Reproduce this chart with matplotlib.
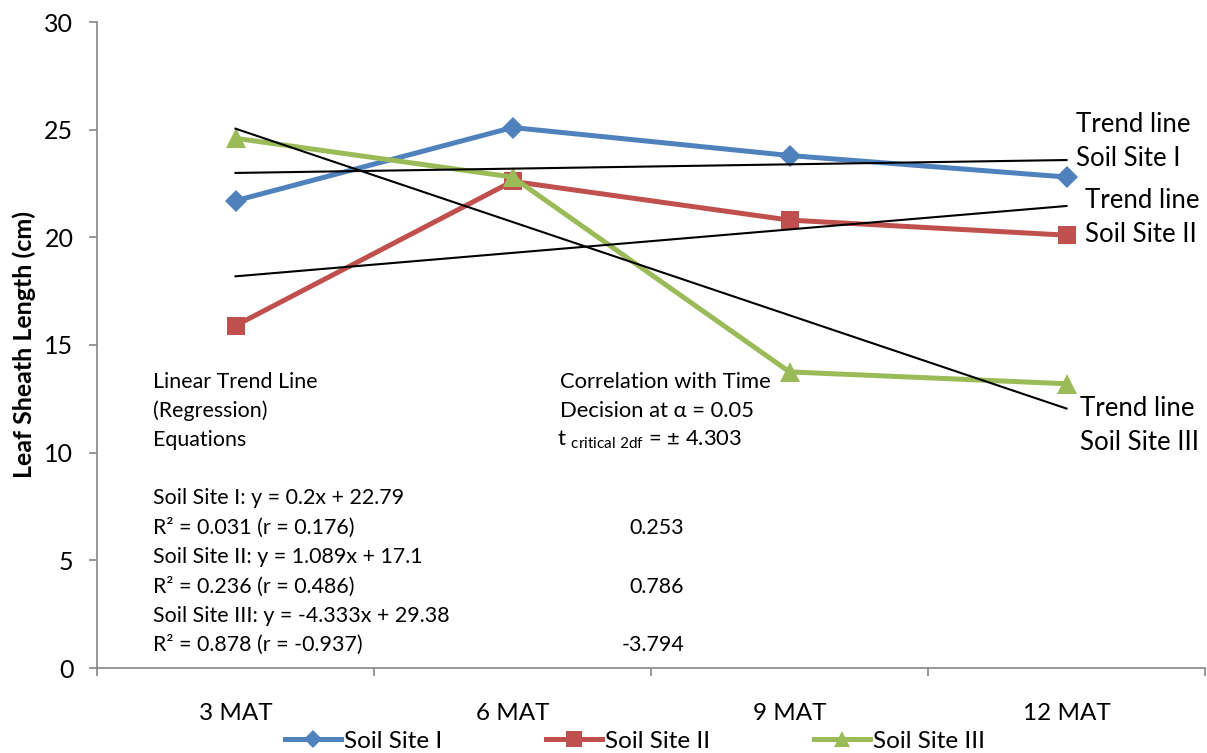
import matplotlib
matplotlib.use("Agg")
import matplotlib.pyplot as plt
from matplotlib.lines import Line2D
import numpy as np

plt.rcParams['font.family'] = ['Lato', 'DejaVu Sans']
plt.rcParams['mathtext.fontset'] = 'custom'
plt.rcParams['mathtext.rm'] = 'Lato'
plt.rcParams['mathtext.it'] = 'Lato:italic'

categories = ["3 MAT", "6 MAT", "9 MAT", "12 MAT"]
site_names = ["Soil Site I", "Soil Site II", "Soil Site III"]
site1 = [21.7, 25.1, 23.8, 22.8]
site2 = [15.9, 22.6, 20.8, 20.1]
site3 = [24.6, 22.8, 13.75, 13.2]
slopes = [0.2, 1.089, -4.333]
intercepts = [22.79, 17.1, 29.38]
t_values = ["0.253", "0.786", "-3.794"]
eq_lines = ["Soil Site I: y = 0.2x + 22.79", "R² = 0.031 (r = 0.176)",
            "Soil Site II: y = 1.089x + 17.1", "R² = 0.236 (r = 0.486)",
            "Soil Site III: y = -4.333x + 29.38", "R² = 0.878 (r = -0.937)"]

colors = ["#4F81BD", "#C0504D", "#9BBB59"]
markers = ["D", "s", "^"]
msizes = [11, 13, 14]

W, H = 1207, 753
fig = plt.figure(figsize=(W / 100, H / 100), dpi=100)
ax = fig.add_axes([97 / W, 1 - 668 / H, (1205 - 97) / W, (668 - 22) / H])

x = np.arange(1, len(categories) + 1)
handles = []
for vals, c, m, ms, name in zip([site1, site2, site3], colors, markers, msizes, site_names):
    ax.plot(x, vals, color=c, lw=3.6, marker=m, markersize=ms,
            markeredgewidth=0, solid_joinstyle='round', zorder=3, clip_on=False)
    handles.append(Line2D([], [], color=c, lw=3.6, marker=m, markersize=ms * 0.85,
                          markeredgewidth=0))

# linear trend lines over the four time points
for s, b in zip(slopes, intercepts):
    ax.plot(x[[0, -1]], [s * x[0] + b, s * x[-1] + b], color="black", lw=1.5, zorder=4)

ax.set_xlim(0.5, 4.5)
ax.set_ylim(0, 30)
ax.set_yticks(range(0, 31, 5))
ax.set_xticks(x)
ax.set_xticklabels(categories)
ax.set_xticks(np.arange(0.5, 4.6, 1.0), minor=True)
ax.tick_params(axis='x', which='major', length=0, pad=25, labelsize=17.5)
ax.tick_params(axis='x', which='minor', length=6, width=1.2, color="#868686")
ax.tick_params(axis='y', length=6, width=1.2, color="#868686", pad=11, labelsize=18)
for side in ["top", "right"]:
    ax.spines[side].set_visible(False)
for side in ["left", "bottom"]:
    ax.spines[side].set_color("#868686")
    ax.spines[side].set_linewidth(1.2)

ax.set_ylabel("Leaf Sheath Length (cm)", fontsize=18, fontweight='bold', labelpad=6)


def ftext(px, py, s, size=15.4, **kw):
    fig.text(px / W, 1 - py / H, s, va='center', fontsize=size, **kw)


for py, s in zip([382, 411, 440], ["Linear Trend Line", "(Regression)", "Equations"]):
    ftext(153, py, s)
for py, s in zip([498, 528, 557, 587, 616, 645], eq_lines):
    ftext(153, py, s)

ftext(560, 382, "Correlation with Time", 15.8)
ftext(560, 411, "Decision at α = 0.05", 15.8)
ftext(557, 440, r"t $_{\mathrm{critical\ 2df}}$ = ± 4.303", 15.8)
for py, s in zip([528, 587, 645], t_values):
    ftext(684, py, s, ha='right')

ftext(1076, 124, "Trend line", 18.5)
ftext(1076, 158, "Soil Site I", 18.5)
ftext(1085, 200, "Trend line", 18.5)
ftext(1085, 235, "Soil Site II", 18.5)
ftext(1080, 408, "Trend line", 18.5)
ftext(1080, 442, "Soil Site III", 18.5)

fig.legend(handles, site_names, loc='center', bbox_to_anchor=(635 / W, 1 - 741 / H),
           ncol=3, frameon=False, fontsize=17.5, handlelength=2.3, handletextpad=0.1,
           columnspacing=4.3, borderpad=0)

fig.savefig("out.png", dpi=100)
